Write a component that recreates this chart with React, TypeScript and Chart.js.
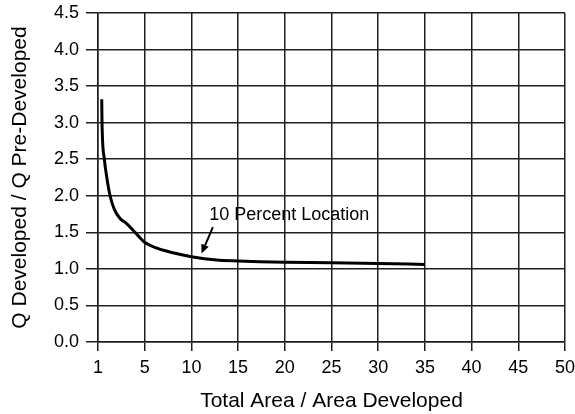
import React, { useEffect, useRef } from "react";
import { Chart, registerables } from "chart.js";

Chart.register(...registerables);

// Axis position 0 is labelled "1" in the original figure
const xTickLabels = ["1", "5", "10", "15", "20", "25", "30", "35", "40", "45", "50"];
const yTickLabels = ["0.0", "0.5", "1.0", "1.5", "2.0", "2.5", "3.0", "3.5", "4.0", "4.5"];

const curveX = [0.4, 0.43, 0.68, 0.93, 1.29, 1.76, 2.36, 3.07, 3.96, 5.03, 6.4, 8.04, 10, 12.7, 15, 17.3, 20, 25, 30, 35];
const curveY = [3.32, 3.0, 2.5, 2.26, 2.0, 1.81, 1.69, 1.62, 1.5, 1.36, 1.28, 1.22, 1.166, 1.12, 1.107, 1.097, 1.09, 1.085, 1.075, 1.06];

const annotationText = "10 Percent Location";
const annotationTextPos = [11.9, 1.74];
const arrowStart = [12.3, 1.57];
const arrowTip = [11.08, 1.21];

const FONT = "'Liberation Sans', Arial, Helvetica, sans-serif";
const GRID = "#1e1e1e";

const annotationPlugin = {
  id: "annotationArrow",
  afterDatasetsDraw(chart: any) {
    const { ctx, scales } = chart;
    const xs = scales.x;
    const ys = scales.y;
    ctx.save();
    ctx.fillStyle = "#000";
    ctx.font = `18px ${FONT}`;
    ctx.textAlign = "left";
    ctx.textBaseline = "middle";
    ctx.fillText(annotationText, xs.getPixelForValue(annotationTextPos[0]), ys.getPixelForValue(annotationTextPos[1]));
    const x1 = xs.getPixelForValue(arrowStart[0]);
    const y1 = ys.getPixelForValue(arrowStart[1]);
    const x2 = xs.getPixelForValue(arrowTip[0]);
    const y2 = ys.getPixelForValue(arrowTip[1]);
    const ang = Math.atan2(y2 - y1, x2 - x1);
    const headLen = 9;
    const headW = 4;
    const bx = x2 - headLen * Math.cos(ang);
    const by = y2 - headLen * Math.sin(ang);
    ctx.strokeStyle = "#000";
    ctx.lineWidth = 2;
    ctx.beginPath();
    ctx.moveTo(x1, y1);
    ctx.lineTo(bx, by);
    ctx.stroke();
    ctx.beginPath();
    ctx.moveTo(x2, y2);
    ctx.lineTo(bx + headW * Math.sin(ang), by - headW * Math.cos(ang));
    ctx.lineTo(bx - headW * Math.sin(ang), by + headW * Math.cos(ang));
    ctx.closePath();
    ctx.fill();
    ctx.restore();
  },
};

export default function App() {
  const ref = useRef<HTMLCanvasElement | null>(null);
  useEffect(() => {
    if (!ref.current) return;
    const data = curveX.map((x, i) => ({ x, y: curveY[i] }));
    const chart = new Chart(ref.current, {
      type: "line",
      data: {
        datasets: [
          {
            data,
            borderColor: "#000",
            borderWidth: 3,
            pointRadius: 0,
            fill: false,
            cubicInterpolationMode: "monotone",
          },
        ],
      },
      options: {
        animation: false,
        responsive: true,
        maintainAspectRatio: false,
        layout: { padding: { left: 0, top: 13, right: 10, bottom: 0 } },
        plugins: { legend: { display: false }, tooltip: { enabled: false } },
        scales: {
          x: {
            type: "linear",
            min: 0,
            max: 50,
            afterFit(scale: any) {
              scale.height = 72;
              scale.paddingRight = 0;
              scale.paddingLeft = 0;
            },
            grid: { color: GRID, lineWidth: 1.5, tickLength: 9, tickColor: GRID },
            border: { display: true, color: GRID, width: 1.5 },
            ticks: {
              stepSize: 5,
              autoSkip: false,
              maxRotation: 0,
              padding: 6,
              color: "#000",
              font: { family: FONT, size: 18 },
              callback: (_v: any, i: number) => xTickLabels[i],
            },
            title: {
              display: true,
              text: "Total Area / Area Developed",
              color: "#000",
              font: { family: FONT, size: 21 },
              padding: { top: 0, bottom: 0 },
            },
          },
          y: {
            type: "linear",
            min: 0,
            max: 4.5,
            afterFit(scale: any) {
              scale.width = 98;
              scale.paddingTop = 0;
              scale.paddingBottom = 0;
            },
            grid: { color: GRID, lineWidth: 1.5, tickLength: 12, tickColor: GRID },
            border: { display: true, color: GRID, width: 1.5 },
            ticks: {
              stepSize: 0.5,
              autoSkip: false,
              padding: 7,
              color: "#000",
              font: { family: FONT, size: 18 },
              callback: (_v: any, i: number) => yTickLabels[i],
            },
            title: {
              display: true,
              text: "Q Developed / Q Pre-Developed",
              color: "#000",
              font: { family: FONT, size: 21 },
              padding: { top: 8, bottom: 0 },
            },
          },
        },
      },
      plugins: [annotationPlugin],
    });
    return () => chart.destroy();
  }, []);
  return (
    <div style={{ position: "fixed", left: 0, top: 0, width: 575, height: 414, background: "#fff" }}>
      <canvas ref={ref} />
    </div>
  );
}
